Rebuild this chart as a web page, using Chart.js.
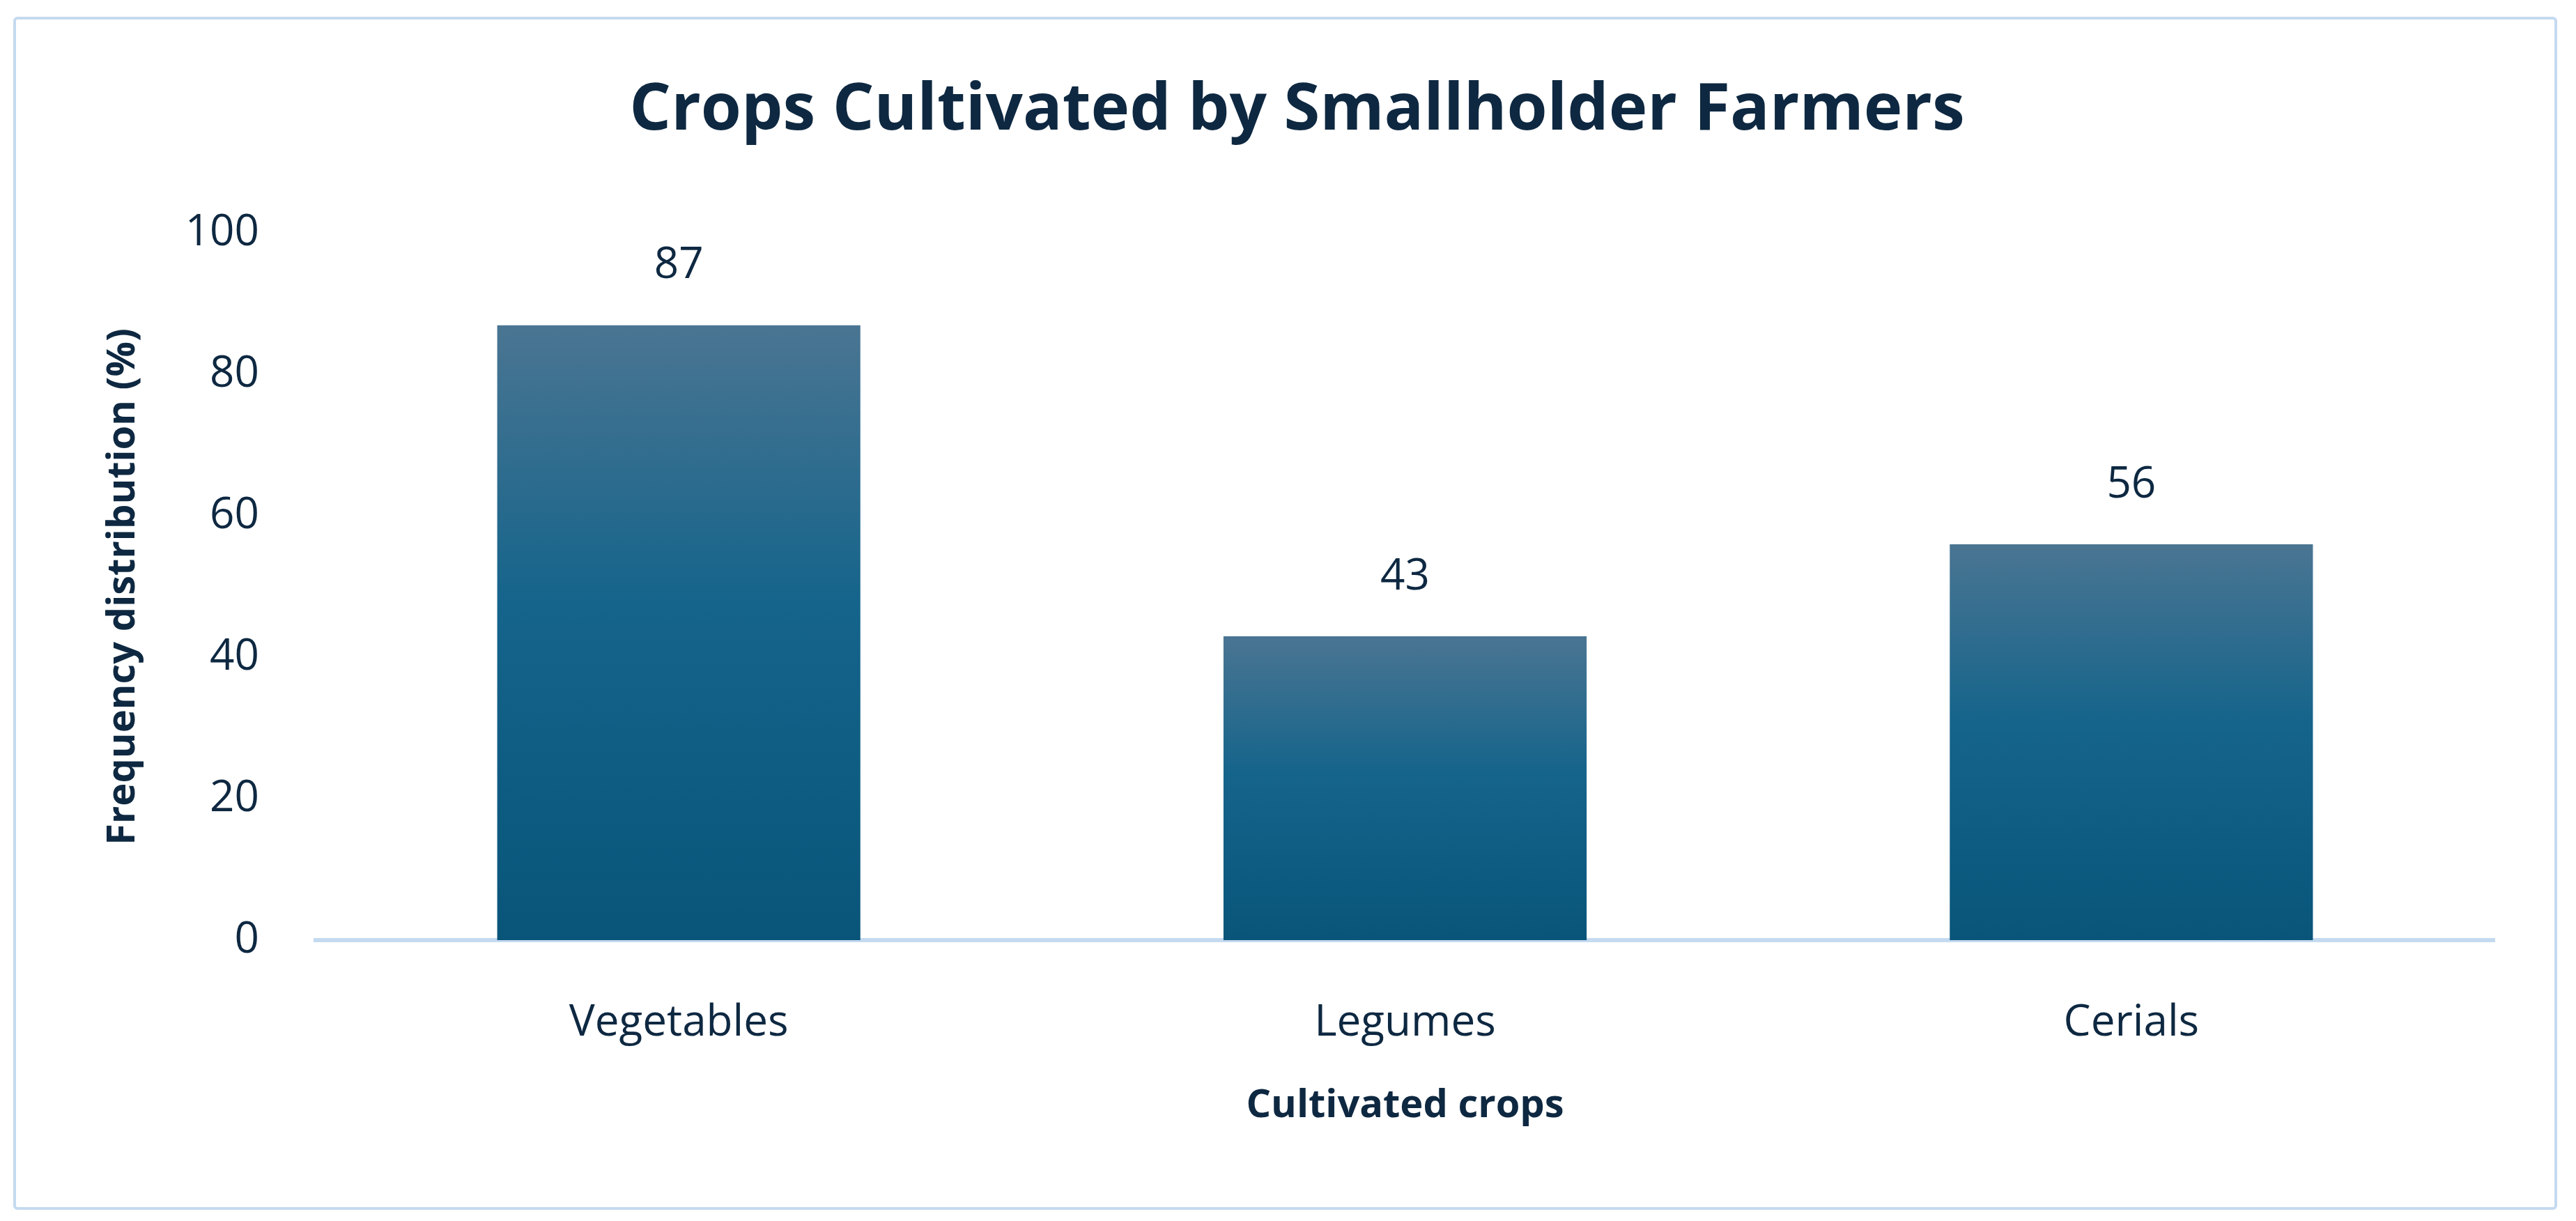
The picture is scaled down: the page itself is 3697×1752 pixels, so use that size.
<!DOCTYPE html>
<html><head><meta charset="utf-8">
<script src="https://cdn.jsdelivr.net/npm/chart.js@4"></script>
<style>
html,body{margin:0;padding:0;background:#fff;width:3697px;height:1752px;overflow:hidden}
#frame{position:absolute;left:19px;top:24px;width:3651px;height:1712px;border:4px solid #c5daf0;border-radius:6px;box-sizing:border-box}
#wrap{position:absolute;left:0;top:0;width:3697px;height:1752px}
</style></head><body>
<div id="frame"></div>
<div id="wrap"><canvas id="c" width="3697" height="1752"></canvas></div>
<script>
const categories = ["Vegetables", "Legumes", "Cerials"];
const values = [87, 43, 56];
const yTicks = [0, 20, 40, 60, 80, 100];
const titleText = "Crops Cultivated by Smallholder Farmers";
const xTitle = "Cultivated crops";
const yTitle = "Frequency distribution (%)";

const navy = "#0e2841";
const FONT = "'Open Sans', 'Noto Sans', sans-serif";

function barFill(ctx) {
  const chart = ctx.chart;
  const y = chart.scales && chart.scales.y;
  if (!y || ctx.parsed === undefined) return "#13628a";
  const top = y.getPixelForValue(ctx.parsed.y);
  const bot = y.getPixelForValue(0);
  if (!isFinite(top) || !isFinite(bot) || top === bot) return "#13628a";
  const g = chart.ctx.createLinearGradient(0, top, 0, bot);
  g.addColorStop(0, "#4a7592");
  g.addColorStop(0.45, "#15648b");
  g.addColorStop(1, "#09557a");
  return g;
}

const valueLabels = {
  id: "valueLabels",
  afterDatasetsDraw(chart) {
    const c = chart.ctx;
    const meta = chart.getDatasetMeta(0);
    c.save();
    c.font = "62px " + FONT;
    c.fillStyle = navy;
    c.textAlign = "center";
    c.textBaseline = "middle";
    meta.data.forEach((bar, i) => {
      c.fillText(String(values[i]), bar.x, bar.y - 85);
    });
    c.restore();
  }
};

new Chart(document.getElementById("c"), {
  type: "bar",
  data: {
    labels: categories,
    datasets: [{ data: values, backgroundColor: barFill, borderWidth: 0,
      categoryPercentage: 1.0, barPercentage: 0.5 }]
  },
  options: {
    responsive: false,
    animation: false,
    devicePixelRatio: 1,
    layout: { padding: { top: 103, left: 143, right: 117, bottom: 131 } },
    plugins: {
      legend: { display: false },
      tooltip: { enabled: false },
      title: { display: true, text: titleText, color: navy,
        font: { family: FONT, size: 94, weight: "bold" },
        padding: { top: 0, bottom: 119 } }
    },
    scales: {
      x: {
        grid: { display: false, drawTicks: false },
        border: { display: true, color: "#c5daf0", width: 6 },
        ticks: { color: navy, font: { family: FONT, size: 62 }, padding: 82 },
        title: { display: true, text: xTitle, color: navy,
          font: { family: FONT, size: 56, weight: "bold" }, padding: 0 },
        afterFit(s) { s.height = 272; }
      },
      y: {
        min: 0, max: 100,
        afterBuildTicks(s) { s.ticks = yTicks.map(v => ({ value: v })); },
        grid: { display: false, drawTicks: false },
        border: { display: false },
        ticks: { color: navy, font: { family: FONT, size: 62 }, padding: 81 },
        title: { display: true, text: yTitle, color: navy,
          font: { family: FONT, size: 56, weight: "bold" }, padding: 0 },
        afterFit(s) { s.width = 453 - 143; }
      }
    }
  },
  plugins: [valueLabels]
});
</script>
</body></html>
